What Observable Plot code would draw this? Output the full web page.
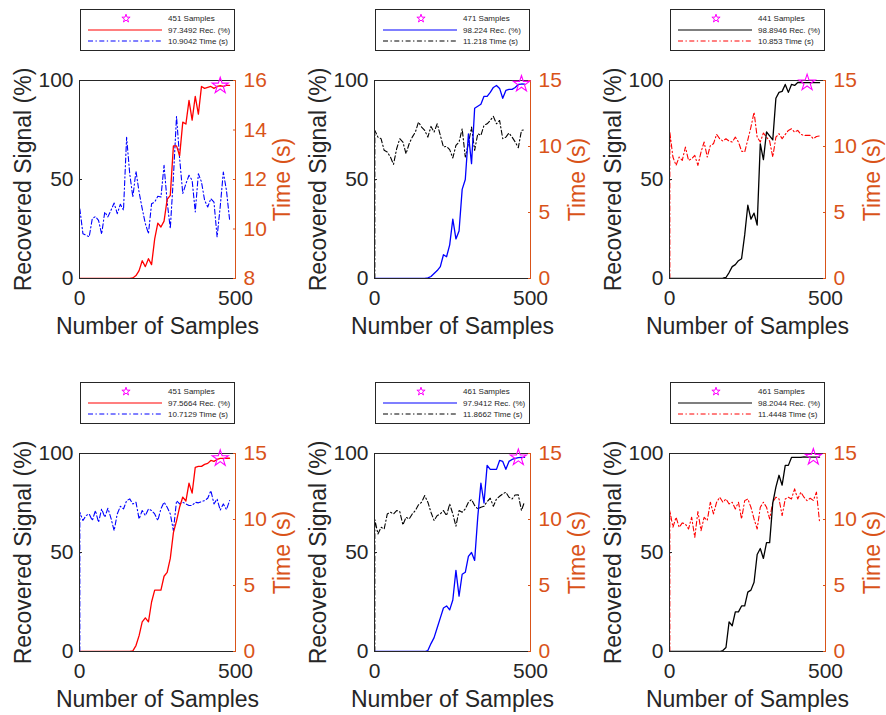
<!DOCTYPE html>
<html><head><meta charset="utf-8">
<script src="https://cdn.jsdelivr.net/npm/d3@7"></script>
<script src="https://cdn.jsdelivr.net/npm/@observablehq/plot@0.6"></script>
<style>
body{margin:0;background:#fff;font-family:"Liberation Sans",Arial,sans-serif;}
#root{position:relative;width:886px;height:715px;overflow:hidden;background:#fff;}
.panel{position:absolute;}
.legend{position:absolute;width:155px;height:42px;box-sizing:border-box;border:1px solid #262626;background:#fff;}
.legend svg{display:block;font-family:"Liberation Sans",Arial,sans-serif;font-size:8px;fill:#262626;}
</style></head><body><div id="root"></div>
<script>
// ---------- data ----------
const samples = [1,11,21,31,41,51,61,71,81,91,101,111,121,131,141,151,161,171,181,191,201,211,221,231,241,251,261,271,281,291,301,311,321,331,341,351,361,371,381,391,401,411,421,431,441,451,461,471,481];

const rec1 = [0,0,0,0,0,0,0,0,0,0,0,0,0,0,0,0,0,0.3,1.5,4,9,6,10,7,20,28,26,29,40,42,67,67,62,79,78,90,80,92,83,97,96,96.5,97,96,97,97.35,97,97.5,97.5];
const time1 = [10.82,9.81,9.75,9.68,10.42,10.5,10.35,9.79,10.69,10.49,10.76,11.05,10.62,11.0,10.76,13.71,12.23,11.29,12.34,11.49,10.82,10.22,9.81,11.02,11.09,11.32,11.29,12.57,11.09,10.02,12.1,14.55,12.84,11.43,11.83,12.17,11.97,10.69,12.23,11.9,11.16,10.89,11.23,11.09,9.68,10.9,12.3,11.56,10.38];

const rec2 = [0,0,0,0,0,0,0,0,0,0,0,0,0,0,0,0,0,0.3,1,2.5,4,6,12,11,17,30,20,24,45,50,73,58,86,87,88,92,92,94,96.5,97.5,96,91,95,95.5,95.5,96.5,98,98.22,98.2];
const time2 = [11.22,10.71,10.59,9.71,9.58,9.2,8.65,9.83,10.59,10.34,9.45,10.21,10.71,11.09,11.85,11.47,11.22,10.71,11.52,11.09,11.72,10.84,9.96,10.01,9.76,9.13,10.08,10.34,11.34,9.2,10.21,11.47,9.71,10.97,10.84,11.6,11.72,11.97,12.28,11.72,11.97,10.59,10.71,11.02,10.71,10.34,9.91,11.218,11.27];

const rec3 = [0,0,0,0,0,0,0,0,0,0,0,0,0,0,0,0,0,0.2,0.5,3,6,7,9,10,22,37,30,33,27,68,60,74,72,70,91,94,94.5,98,94,98,97.5,99,99,98.9,98.8946,98.9,98.9,98.9,98.9];
const time3 = [11.09,9.2,8.57,9.2,8.95,9.96,8.95,9.07,9.33,8.57,9.58,10.34,9.2,10.08,10.21,10.92,10.59,10.41,10.59,10.41,10.34,10.71,10.34,9.65,9.58,10.51,11.47,12.6,10.71,10.34,11.02,10.71,10.41,9.2,10.71,10.97,10.59,10.92,11.22,11.34,11.09,11.22,10.92,10.84,10.853,10.84,10.59,10.76,10.8];

const rec4 = [0,0,0,0,0,0,0,0,0,0,0,0,0,0,0,0,0,0.3,3,8,15,17,15,25,31,31,31,38,40,47,60,66,73,78,76,85,80,93,93.5,93.5,94.5,95,96.5,96,97,97.5664,97.5,97.6,97.6];
const time4 = [10.55,9.92,10.3,10.42,9.92,10.68,9.79,10.8,10.17,10.85,10.09,9.16,10.42,11.0,10.8,11.43,11.56,11.18,11.31,10.04,10.68,10.3,10.8,10.68,10.42,9.92,10.8,11.31,10.93,10.42,9.16,11.43,11.18,11.31,11.18,11.06,11.06,11.31,11.26,11.36,11.43,11.61,12.19,11.18,11.56,10.7129,11.18,10.75,11.43];

const rec5 = [0,0,0,0,0,0,0,0,0,0,0,0,0,0,0,0,0,0.5,4,7,12,17,22,23,21,26,41,28,39,40,48,50,46,68,85,75,94,92,92,92,96.5,96,92,96,97,97.5,97.9412,98,98];
const time5 = [10.0,8.9,9.41,9.28,10.42,10.55,10.42,10.68,10.6,9.59,10.17,10.04,10.42,10.68,11.11,11.31,11.81,11.31,10.55,9.92,10.3,10.42,10.68,10.3,11.18,10.42,9.49,10.68,10.55,10.8,11.31,11.51,11.06,10.8,10.93,11.0,11.36,11.61,11.0,11.56,11.76,11.94,12.07,11.69,11.56,11.86,11.8662,10.68,11.36];

const rec6 = [0,0,0,0,0,0,0,0,0,0,0,0,0,0,0,0,0,0.5,2,15,13,20,20,23,23,30,31,35,49,52,47,55,55,75,83,89,84,94,94,98,98,98,98,98.3,98.2,98.2,98.2044,98.2,98.2];
const time6 = [10.68,9.41,10.17,9.41,9.74,9.66,9.28,10.17,8.65,10.6,9.16,10.17,9.92,11.31,10.42,11.31,11.69,11.31,11.56,11.18,11.31,10.8,11.31,10.04,11.43,11.56,10.93,10.04,9.28,10.93,11.31,10.93,10.04,11.31,11.69,11.56,10.3,11.56,11.69,11.56,12.32,11.56,12.07,11.69,11.43,11.61,11.4448,12.07,9.79];

// time value before the first sample (vertical start segment), null = none
const timeStart = [null, 0, 0, 0, 0, 0];

const starSamples = [451, 471, 441, 451, 461, 461];
const starRecs = [97.3492, 98.224, 98.8946, 97.5664, 97.9412, 98.2044];
const legendRec = ["97.3492", "98.224", "98.8946", "97.5664", "97.9412", "98.2044"];
const legendTime = ["10.9042", "11.218", "10.853", "10.7129", "11.8662", "11.4448"];

const recColors = ["#FF0000", "#0000FF", "#000000", "#FF0000", "#0000FF", "#000000"];
const timeColors = ["#0000FF", "#000000", "#FF0000", "#0000FF", "#000000", "#FF0000"];

const xTicks = [0, 500];
const leftTicks = [0, 50, 100];
const rightDomains = [[8, 16], [0, 15], [0, 15], [0, 15], [0, 15], [0, 15]];
const rightTicks = [[8, 10, 12, 14, 16], [0, 5, 10, 15], [0, 5, 10, 15], [0, 5, 10, 15], [0, 5, 10, 15], [0, 5, 10, 15]];

const xLabel = "Number of Samples";
const yLabel = "Recovered Signal (%)";
const y2Label = "Time (s)";

const recs = [rec1, rec2, rec3, rec4, rec5, rec6];
const times = [time1, time2, time3, time4, time5, time6];

// ---------- drawing ----------
const AX = "#262626";
const ORANGE = "#D95319";
const MAGENTA = "#FF00FF";
const DASHDOT = "5,2.5,1.3,2.5";
const FONT = "'Liberation Sans', Arial, Helvetica, sans-serif";
const root = document.getElementById("root");
const colLeft = [0, 295, 590];
const rowTop = [0, 373];

function makePanel(k) {
  const left = colLeft[k % 3], top = rowTop[Math.floor(k / 3)];
  const toLeft = d3.scaleLinear().domain(rightDomains[k]).range([0, 100]);
  const recData = samples.map((s, i) => ({x: s, y: recs[k][i]}));
  let timeData = samples.map((s, i) => ({x: s, y: toLeft(times[k][i])}));
  if (timeStart[k] != null) timeData = [{x: samples[0], y: toLeft(timeStart[k])}, ...timeData];
  const fmt = d => String(Math.round(toLeft.invert(d) * 1000) / 1000);

  const chart = Plot.plot({
    width: 295, height: 290,
    marginLeft: 79, marginRight: 60, marginTop: 25, marginBottom: 67,
    x: {domain: [0, 500]},
    y: {domain: [0, 100]},
    style: {fontFamily: FONT, background: "transparent", overflow: "visible", color: AX},
    marks: [
      Plot.line(timeData, {x: "x", y: "y", stroke: timeColors[k], strokeWidth: 1.1, strokeDasharray: DASHDOT, clip: true}),
      Plot.line(recData, {x: "x", y: "y", stroke: recColors[k], strokeWidth: 1.3, clip: true}),
      Plot.ruleY([100], {stroke: AX, strokeWidth: 1}),
      Plot.ruleY([0], {stroke: AX, strokeWidth: 1}),
      Plot.ruleX([0], {stroke: AX, strokeWidth: 1}),
      Plot.ruleX([500], {stroke: ORANGE, strokeWidth: 1}),
      Plot.axisX({ticks: xTicks, tickSize: 0, tickPadding: 12, fontSize: 21, label: null, color: AX, tickFormat: d => String(d)}),
      Plot.axisY({anchor: "left", ticks: leftTicks, tickSize: -3, tickPadding: 9, fontSize: 21, label: null, color: AX}),
      Plot.axisY({anchor: "right", ticks: rightTicks[k].map(v => toLeft(v)), tickFormat: fmt, tickSize: -3, tickPadding: 11, fontSize: 21, label: null, color: ORANGE}),
      Plot.text([xLabel], {frameAnchor: "bottom", text: d => d, dy: 39, textAnchor: "middle", lineAnchor: "top", fontSize: 23, fill: AX}),
      Plot.text([yLabel], {frameAnchor: "left", text: d => d, rotate: -90, dx: -56, textAnchor: "middle", lineAnchor: "middle", fontSize: 23, fill: AX}),
      Plot.text([y2Label], {frameAnchor: "right", text: d => d, rotate: -90, dx: 47, textAnchor: "middle", lineAnchor: "middle", fontSize: 23, fill: ORANGE}),
      Plot.dot([{x: starSamples[k], y: starRecs[k]}], {x: "x", y: "y", symbol: "star", r: 5.1, stroke: MAGENTA, fill: "none", strokeWidth: 1.1})
    ]
  });
  const wrap = document.createElement("div");
  wrap.className = "panel";
  wrap.style.left = left + "px";
  wrap.style.top = (top + 55) + "px";
  wrap.appendChild(chart);
  root.appendChild(wrap);

  // legend
  const lg = document.createElement("div");
  lg.className = "legend";
  lg.style.left = (left + 80) + "px";
  lg.style.top = (top + 9) + "px";
  const starPath = d3.symbol(d3.symbolStar, 21)();
  lg.innerHTML = `<svg width="153" height="40">
    <path d="${starPath}" transform="translate(45,8.5)" fill="none" stroke="${MAGENTA}" stroke-width="1"/>
    <text x="87" y="8.5" dy="0.35em">${starSamples[k]} Samples</text>
    <line x1="7" x2="81" y1="20" y2="20" stroke="${recColors[k]}" stroke-width="1.1"/>
    <text x="87" y="20" dy="0.35em">${legendRec[k]} Rec. (%)</text>
    <line x1="7" x2="81" y1="31" y2="31" stroke="${timeColors[k]}" stroke-width="1" stroke-dasharray="${DASHDOT}"/>
    <text x="87" y="31" dy="0.35em">${legendTime[k]} Time (s)</text>
  </svg>`;
  root.appendChild(lg);
}

for (let k = 0; k < 6; k++) makePanel(k);
</script>
</body></html>
